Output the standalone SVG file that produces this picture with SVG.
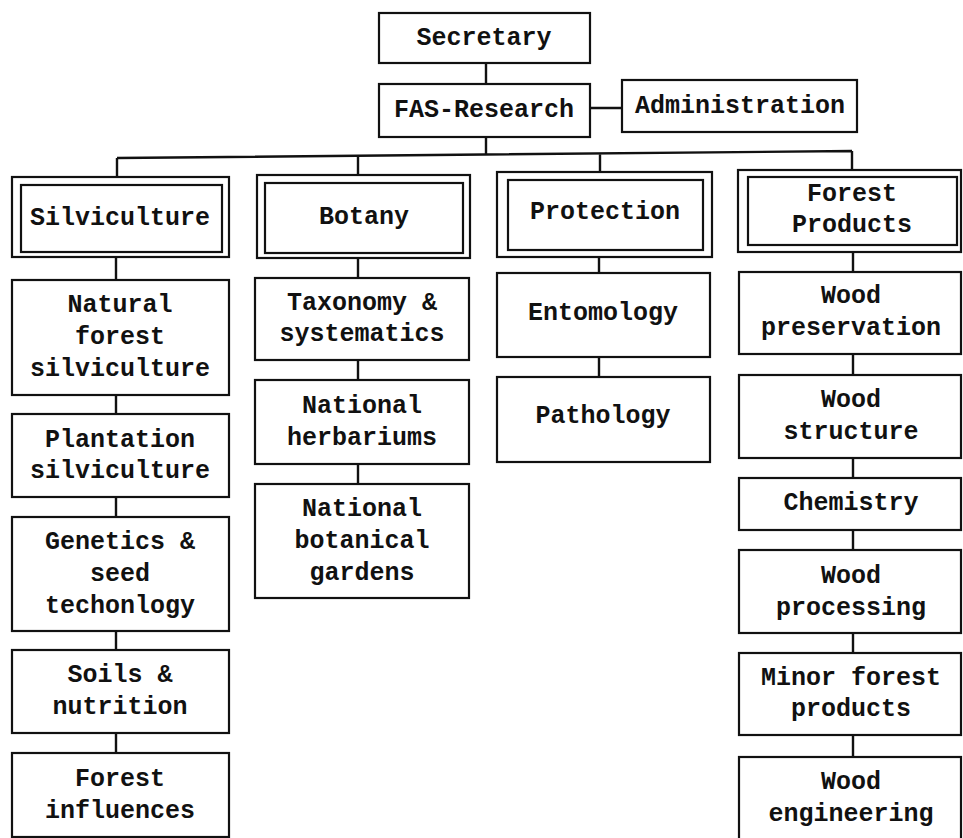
<svg xmlns="http://www.w3.org/2000/svg" width="963" height="838" viewBox="0 0 963 838">
<style>
.b{fill:#fff;stroke:#111;stroke-width:2.2}
.c{fill:none;stroke:#111;stroke-width:2.4}
text{font-family:"Liberation Mono","Courier New",monospace;font-weight:bold;font-size:25px;fill:#111;text-anchor:middle;dominant-baseline:central}
</style>
<rect width="963" height="838" fill="#fff"/>
<g id="connectors">
<path class="c" d="M486 63V85M590 108H622M486 137V155M117 158L852 151M117 158V177M358 156V175M600 153V172M852 151V170"/>
<path class="c" d="M116 257V280M116 395V414M116 497V517M116 631V650M116 733V753"/>
<path class="c" d="M358 258V278M358 360V380M358 464V484"/>
<path class="c" d="M599 257V273M599 357V377"/>
<path class="c" d="M853 252V272M853 354V375M853 458V478M853 530V550M853 633V653M853 735V757"/>
</g>
<g id="secretary"><rect class="b" x="379" y="13" width="211" height="50"/><text x="484" y="38">Secretary</text></g>
<g id="fas"><rect class="b" x="379" y="84" width="211" height="53"/><text x="484" y="110">FAS-Research</text></g>
<g id="admin"><rect class="b" x="622" y="80" width="235" height="52"/><text x="740" y="106">Administration</text></g>
<g id="silviculture"><rect class="b" x="12" y="177" width="217" height="80"/><rect class="b" x="21" y="185" width="201" height="67"/><text x="120" y="218">Silviculture</text></g>
<g id="botany"><rect class="b" x="257" y="175" width="213" height="83"/><rect class="b" x="265" y="183" width="198" height="70"/><text x="364" y="217">Botany</text></g>
<g id="protection"><rect class="b" x="497" y="172" width="215" height="85"/><rect class="b" x="508" y="180" width="195" height="70"/><text x="605" y="212">Protection</text></g>
<g id="forestproducts"><rect class="b" x="738" y="170" width="223" height="82"/><rect class="b" x="748" y="177" width="209" height="68"/><text x="852" y="194">Forest</text><text x="852" y="225">Products</text></g>
<g id="natural"><rect class="b" x="12" y="280" width="217" height="115"/><text x="120" y="305">Natural</text><text x="120" y="337">forest</text><text x="120" y="369">silviculture</text></g>
<g id="plantation"><rect class="b" x="12" y="414" width="217" height="83"/><text x="120" y="440">Plantation</text><text x="120" y="471">silviculture</text></g>
<g id="genetics"><rect class="b" x="12" y="517" width="217" height="114"/><text x="120" y="542">Genetics &amp;</text><text x="120" y="574">seed</text><text x="120" y="606">techonlogy</text></g>
<g id="soils"><rect class="b" x="12" y="650" width="217" height="83"/><text x="120" y="675">Soils &amp;</text><text x="120" y="707">nutrition</text></g>
<g id="influences"><rect class="b" x="12" y="753" width="217" height="84"/><text x="120" y="779">Forest</text><text x="120" y="811">influences</text></g>
<g id="taxonomy"><rect class="b" x="255" y="278" width="214" height="82"/><text x="362" y="303">Taxonomy &amp;</text><text x="362" y="334">systematics</text></g>
<g id="herbariums"><rect class="b" x="255" y="380" width="214" height="84"/><text x="362" y="406">National</text><text x="362" y="438">herbariums</text></g>
<g id="gardens"><rect class="b" x="255" y="484" width="214" height="114"/><text x="362" y="509">National</text><text x="362" y="541">botanical</text><text x="362" y="573">gardens</text></g>
<g id="entomology"><rect class="b" x="497" y="273" width="213" height="84"/><text x="603" y="313">Entomology</text></g>
<g id="pathology"><rect class="b" x="497" y="377" width="213" height="85"/><text x="603" y="416">Pathology</text></g>
<g id="woodpres"><rect class="b" x="739" y="272" width="222" height="82"/><text x="851" y="296">Wood</text><text x="851" y="328">preservation</text></g>
<g id="woodstruct"><rect class="b" x="739" y="375" width="222" height="83"/><text x="851" y="400">Wood</text><text x="851" y="432">structure</text></g>
<g id="chemistry"><rect class="b" x="739" y="478" width="222" height="52"/><text x="851" y="503">Chemistry</text></g>
<g id="woodproc"><rect class="b" x="739" y="550" width="222" height="83"/><text x="851" y="576">Wood</text><text x="851" y="608">processing</text></g>
<g id="minor"><rect class="b" x="739" y="653" width="222" height="82"/><text x="851" y="678">Minor forest</text><text x="851" y="709">products</text></g>
<g id="woodeng"><rect class="b" x="739" y="757" width="222" height="90"/><text x="851" y="782">Wood</text><text x="851" y="814">engineering</text></g>
</svg>
